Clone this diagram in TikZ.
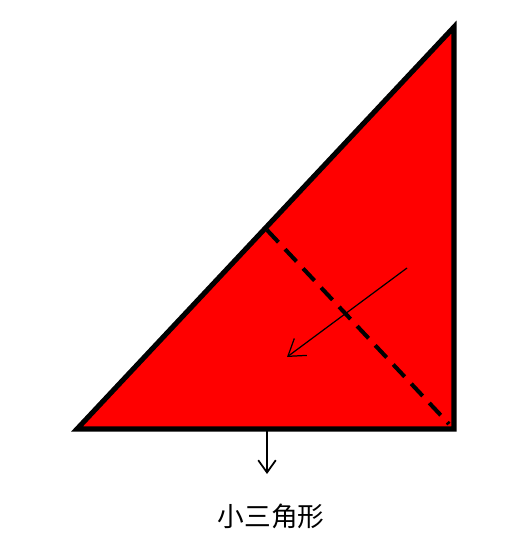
\documentclass[tikz,border=0pt]{standalone}
\usepackage{fontspec}
\newfontfamily\cjk{Noto Sans CJK SC}
\usetikzlibrary{arrows.meta}
\begin{document}
\begin{tikzpicture}[x=0.02cm,y=-0.02cm]
    \useasboundingbox (0,0) rectangle (527,550);

    % Triangle coordinates
    \coordinate (A) at (77,429);
    \coordinate (B) at (454,429);
    \coordinate (C) at (454,27);

    % Fold line ends
    \coordinate (D) at (267,230);
    \coordinate (E) at (449,424);

    % Draw triangle
    \filldraw[fill=red, line width=2.9pt, line join=miter] (A) -- (B) -- (C) -- cycle;

    % Dashed fold line
    \draw[line width=2.3pt, dash pattern=on 9.5pt off 5.5pt] (D) -- (E);

    % Fold direction
    \coordinate (P) at (407,268);
    \coordinate (Q) at (287,357);
    \draw[line width=0.7pt, -{Straight Barb[length=9pt,width=12pt]}] (P) -- (Q);

    % Result label
    \coordinate (F) at (267,431);
    \node (label) at (271,516) {\cjk\fontsize{15.2}{18}\selectfont 小三角形};
    \coordinate (G) at (267,474);
    \draw[line width=1pt, -{Straight Barb[length=7pt,width=10pt]}] (F) -- (G);
\end{tikzpicture}
\end{document}
